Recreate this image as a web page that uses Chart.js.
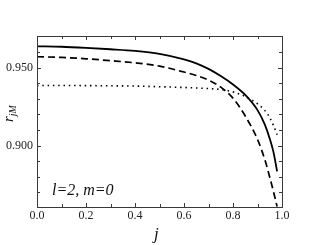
<!DOCTYPE html>
<html>
<head>
<meta charset="utf-8">
<script src="https://cdn.jsdelivr.net/npm/chart.js@4.4.1/dist/chart.umd.min.js"></script>
<style>
  body { margin: 0; background: #fff; }
  canvas { display: block; }
</style>
</head>
<body>
<canvas id="chart-rjm" width="317" height="245"></canvas>
<script>
// j values shared by the three curves
const jVals = [0, 0.1, 0.2, 0.3, 0.4, 0.5, 0.6, 0.65, 0.7, 0.75, 0.8, 0.85, 0.9, 0.93, 0.95, 0.965, 0.98];
const solidVals  = [0.9637, 0.9634, 0.9627, 0.9618, 0.9607, 0.9588, 0.9553, 0.9528, 0.9492, 0.9446, 0.9392, 0.9325, 0.9228, 0.9135, 0.9045, 0.8960, 0.8835];
const dashedVals = [0.9570, 0.9566, 0.9557, 0.9545, 0.9531, 0.9510, 0.9472, 0.9450, 0.9420, 0.9375, 0.9305, 0.9190, 0.9040, 0.8910, 0.8798, 0.8707, 0.8610];
const dottedVals = [0.9386, 0.9386, 0.9385, 0.9384, 0.9382, 0.9378, 0.9373, 0.9370, 0.9366, 0.9360, 0.9345, 0.9315, 0.9268, 0.9225, 0.9180, 0.9130, 0.9070];

const xMajorTicks = [0, 0.2, 0.4, 0.6, 0.8, 1.0];
const xMinorTicks = [0.1, 0.3, 0.5, 0.7, 0.9];
const yMajorTicks = [0.900, 0.950];
const yMinorTicks = [0.87, 0.88, 0.89, 0.91, 0.92, 0.93, 0.94, 0.96];

const toPoints = (ys) => ys.map((y, i) => ({ x: jVals[i], y: y }));

const frameColor = '#3a3a3a';

const framePlugin = {
    id: 'frame',
    afterDraw(chart) {
        const ctx = chart.ctx;
        const a = chart.chartArea;
        const xs = chart.scales.x;
        const ys = chart.scales.y;
        ctx.save();
        ctx.strokeStyle = frameColor;
        ctx.lineWidth = 1;
        ctx.strokeRect(Math.round(a.left) + 0.5, Math.round(a.top) + 0.5,
                       Math.round(a.right - a.left), Math.round(a.bottom - a.top));
        // inward ticks on all four sides
        const xTick = (v, len) => {
            const px = Math.round(xs.getPixelForValue(v)) + 0.5;
            ctx.beginPath();
            ctx.moveTo(px, a.bottom); ctx.lineTo(px, a.bottom - len);
            ctx.moveTo(px, a.top); ctx.lineTo(px, a.top + len);
            ctx.stroke();
        };
        const yTick = (v, len) => {
            const py = Math.round(ys.getPixelForValue(v)) + 0.5;
            ctx.beginPath();
            ctx.moveTo(a.left, py); ctx.lineTo(a.left + len, py);
            ctx.moveTo(a.right, py); ctx.lineTo(a.right - len, py);
            ctx.stroke();
        };
        xMajorTicks.forEach(v => xTick(v, 4));
        xMinorTicks.forEach(v => xTick(v, 3));
        yMajorTicks.forEach(v => yTick(v, 4));
        yMinorTicks.forEach(v => yTick(v, 3));

        ctx.fillStyle = '#111';
        ctx.textAlign = 'left';
        ctx.textBaseline = 'alphabetic';
        // annotation
        ctx.font = 'italic 16px "Liberation Serif"';
        ctx.fillText('l=2, m=0', 52, 195);
        // x title
        ctx.font = 'italic 17px "Liberation Serif"';
        ctx.fillText('j', 154, 239);
        // y title r_jM, rotated
        ctx.translate(12.5, 122);
        ctx.rotate(-Math.PI / 2);
        ctx.font = 'italic 15px "Liberation Serif"';
        ctx.fillText('r', 0, 0);
        const rw = ctx.measureText('r').width;
        ctx.font = 'italic 10px "Liberation Serif"';
        ctx.fillText('jM', rw, 3.5);
        ctx.restore();
    }
};

const chartGet = document.getElementById('chart-rjm');
const chartRender = new Chart(chartGet, {
    type: 'line',
    data: {
        datasets: [{
            data: toPoints(solidVals),
            borderColor: '#000',
            borderWidth: 1.8,
            pointRadius: 0,
            cubicInterpolationMode: 'monotone'
        }, {
            data: toPoints(dashedVals),
            borderColor: '#000',
            borderWidth: 1.7,
            borderDash: [7, 4],
            pointRadius: 0,
            cubicInterpolationMode: 'monotone'
        }, {
            data: toPoints(dottedVals),
            borderColor: '#000',
            borderWidth: 1.6,
            borderDash: [1.5, 3.8],
            pointRadius: 0,
            cubicInterpolationMode: 'monotone'
        }]
    },
    options: {
        responsive: false,
        animation: false,
        layout: { padding: { left: 0, top: 36, right: 35, bottom: 0 } },
        plugins: { legend: { display: false }, tooltip: { enabled: false } },
        scales: {
            x: {
                type: 'linear',
                min: 0,
                max: 1,
                grid: { display: false, drawTicks: false, tickLength: 0 },
                border: { display: false },
                afterBuildTicks: (axis) => { axis.ticks = xMajorTicks.map(v => ({ value: v })); },
                afterFit: (scale) => { scale.height = 38; },
                ticks: {
                    autoSkip: false,
                    maxRotation: 0,
                    padding: 2,
                    color: '#222',
                    font: { family: 'Liberation Serif', size: 12 },
                    callback: (v) => Number(v).toFixed(1)
                }
            },
            y: {
                type: 'linear',
                min: 0.8607,
                max: 0.9703,
                grid: { display: false, drawTicks: false, tickLength: 0 },
                border: { display: false },
                afterBuildTicks: (axis) => { axis.ticks = yMajorTicks.map(v => ({ value: v })); },
                afterFit: (scale) => { scale.width = 37; },
                ticks: {
                    autoSkip: false,
                    padding: 4,
                    color: '#222',
                    font: { family: 'Liberation Serif', size: 12 },
                    callback: (v) => Number(v).toFixed(3)
                }
            }
        }
    },
    plugins: [framePlugin]
});
</script>
</body>
</html>
